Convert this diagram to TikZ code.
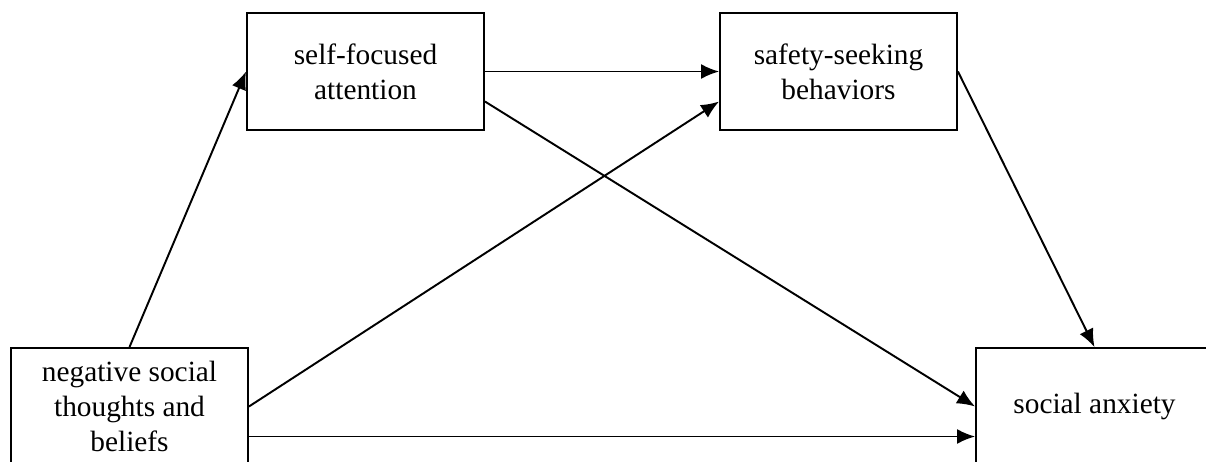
\documentclass[tikz,border=0pt]{standalone}
\usepackage{fontspec}
\setmainfont{Liberation Serif}
\usetikzlibrary{arrows.meta}

\tikzset{
  box/.style={draw, line width=1.1pt, minimum width=4.74cm, minimum height=2.34cm,
    align=center, font=\fontsize{16.7}{20}\selectfont},
  arr/.style={line width=1.1pt, -{Latex[length=3.6mm,width=3mm]}}
}

\begin{document}
\begin{tikzpicture}[x=0.02cm,y=-0.02cm]
\useasboundingbox (0,0) rectangle (1206,461);
\clip (0,0) rectangle (1206,461);
% mediators
\node[box] (attn) at (365.5,71.5) {self-focused\\attention};
\node[box] (safety) at (838.5,71.5) {safety-seeking\\behaviors};
% predictor and outcome
\node[box] (neg) at (129.5,406.5) {negative social\\thoughts and\\beliefs};
\node[box] (anx) at (1094.5,406.5) {social anxiety};
% paths
\draw[arr] (neg.north) -- (attn.west);
\draw[arr] (attn.east) -- (safety.west);
\draw[arr] ([yshift=-0.6cm]attn.east) -- (anx.west);
\draw[arr] (neg.east) -- ([yshift=-0.6cm]safety.west);
\draw[arr] ([yshift=-0.6cm]neg.east) -- ([yshift=-0.6cm]anx.west);
\draw[arr] (safety.east) -- (anx.north);
\end{tikzpicture}
\end{document}
